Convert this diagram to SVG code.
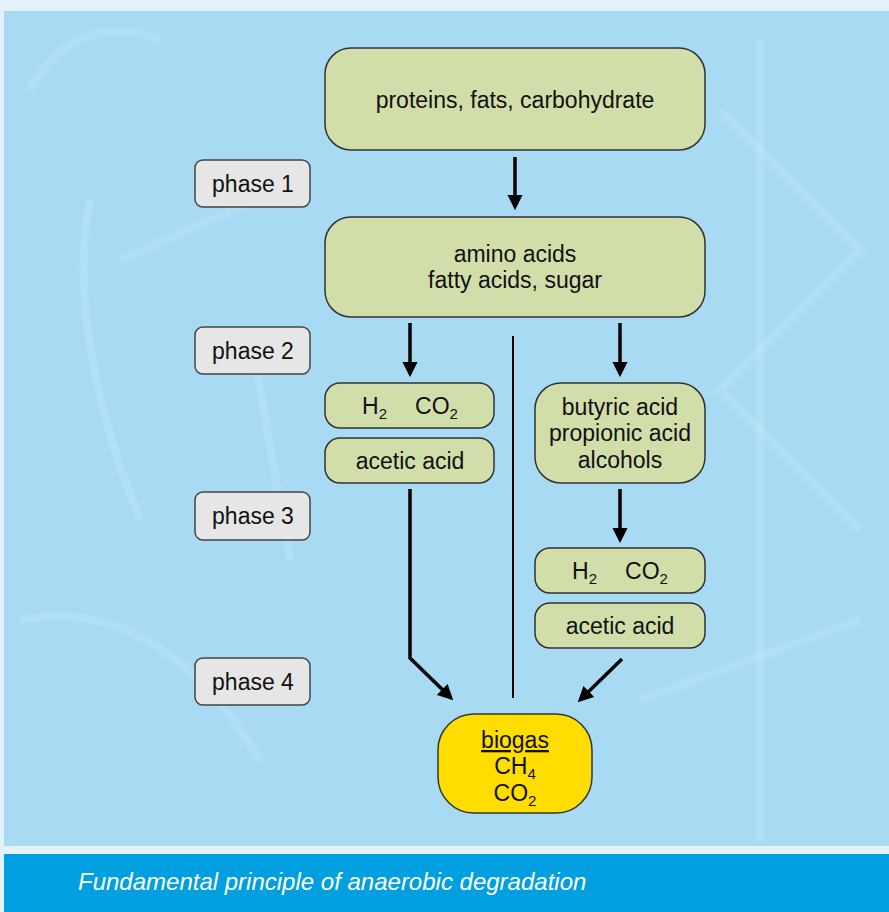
<svg xmlns="http://www.w3.org/2000/svg" width="889" height="912" viewBox="0 0 889 912">
<defs>
<marker id="ah" viewBox="0 0 10 10" refX="8" refY="5" markerWidth="4.4" markerHeight="4.4" orient="auto" markerUnits="strokeWidth">
<path d="M0,0 L10,5 L0,10 z" fill="#000"/>
</marker>
<style>
.box{fill:#d2deaa;stroke:#333;stroke-width:1.5}
.ph{fill:#e6e6e6;stroke:#444;stroke-width:1.5}
.bg{fill:#ffdd00;stroke:#333;stroke-width:1.5}
text{font-family:"Liberation Sans",Arial,sans-serif;font-size:23px;fill:#111;text-anchor:middle}
.sub{font-size:15px}
.conn{stroke:#000;stroke-width:3.5;fill:none}
.sk{stroke:#c6e8f8;stroke-width:8;fill:none;opacity:0.35}
</style>
</defs>
<rect x="0" y="0" width="889" height="912" fill="#e4f3fb"/>
<rect x="4" y="11" width="885" height="835" fill="#a8daf3"/>
<g id="sketch">
<path class="sk" d="M30,90 C60,30 120,20 160,40"/>
<path class="sk" d="M90,200 C70,300 100,420 140,520"/>
<path class="sk" d="M250,330 L290,560"/>
<path class="sk" d="M720,110 L860,250 L720,390 L860,530"/>
<path class="sk" d="M760,40 L760,840"/>
<path class="sk" d="M20,620 C120,600 200,660 260,760"/>
<path class="sk" d="M640,700 L860,620"/>
<path class="sk" d="M120,260 L300,180"/>
</g>
<rect x="4" y="854" width="885" height="58" fill="#009fe0"/>
<text x="78" y="890" style="font-style:italic;fill:#fff;text-anchor:start;font-size:24px">Fundamental principle of anaerobic degradation</text>
<g id="connectors">
<line class="conn" x1="515" y1="157" x2="515" y2="207" marker-end="url(#ah)"/>
<line class="conn" x1="410" y1="323" x2="410" y2="374" marker-end="url(#ah)"/>
<line class="conn" x1="620" y1="323" x2="620" y2="374" marker-end="url(#ah)"/>
<line class="conn" x1="620" y1="489" x2="620" y2="540" marker-end="url(#ah)"/>
<polyline class="conn" points="410,489 410,658 451,698" marker-end="url(#ah)"/>
<line class="conn" x1="622" y1="659" x2="580" y2="700" marker-end="url(#ah)"/>
<line x1="513" y1="336" x2="513" y2="698" stroke="#000" stroke-width="2"/>
</g>
<g id="n-top"><rect class="box" x="325" y="48" width="380" height="102" rx="26"/><text x="515" y="108">proteins, fats, carbohydrate</text></g>
<g id="n-amino"><rect class="box" x="325" y="217" width="380" height="100" rx="26"/><text x="515" y="262">amino acids</text><text x="515" y="288">fatty acids, sugar</text></g>
<g id="n-h2co2-l"><rect class="box" x="325" y="383" width="169" height="45" rx="15"/><text x="410" y="414">H<tspan class="sub" dy="5">2</tspan><tspan dy="-5" dx="28">CO</tspan><tspan class="sub" dy="5">2</tspan></text></g>
<g id="n-acetic-l"><rect class="box" x="325" y="438" width="169" height="45" rx="15"/><text x="410" y="469">acetic acid</text></g>
<g id="n-butyric"><rect class="box" x="535" y="383" width="170" height="100" rx="26"/><text x="620" y="415">butyric acid</text><text x="620" y="441">propionic acid</text><text x="620" y="468">alcohols</text></g>
<g id="n-h2co2-r"><rect class="box" x="535" y="548" width="170" height="45" rx="15"/><text x="620" y="579">H<tspan class="sub" dy="5">2</tspan><tspan dy="-5" dx="28">CO</tspan><tspan class="sub" dy="5">2</tspan></text></g>
<g id="n-acetic-r"><rect class="box" x="535" y="603" width="170" height="45" rx="15"/><text x="620" y="634">acetic acid</text></g>
<g id="n-biogas"><rect class="bg" x="438" y="714" width="154" height="99" rx="36"/><text x="515" y="748" text-decoration="underline">biogas</text><text x="515" y="774">CH<tspan class="sub" dy="5">4</tspan></text><text x="515" y="801">CO<tspan class="sub" dy="5">2</tspan></text></g>
<g id="p1"><rect class="ph" x="195" y="160" width="115" height="47" rx="8"/><text x="253" y="192">phase 1</text></g>
<g id="p2"><rect class="ph" x="195" y="327" width="115" height="47" rx="8"/><text x="253" y="359">phase 2</text></g>
<g id="p3"><rect class="ph" x="195" y="492" width="115" height="48" rx="8"/><text x="253" y="524">phase 3</text></g>
<g id="p4"><rect class="ph" x="195" y="658" width="115" height="47" rx="8"/><text x="253" y="690">phase 4</text></g>
</svg>
